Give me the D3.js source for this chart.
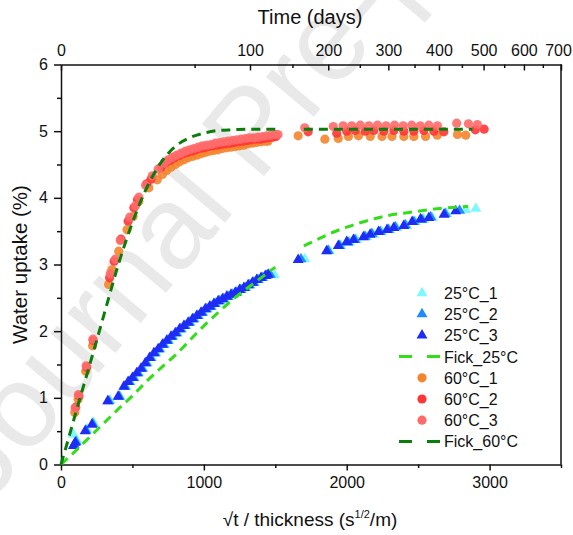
<!DOCTYPE html>
<html lang="en">
<head>
<meta charset="utf-8">
<title>Water uptake</title>
<script src="https://d3js.org/d3.v7.min.js"></script>
<style>
  body { margin: 0; background: #fff; }
  svg text { font-family: "Liberation Sans", Arial, sans-serif; fill: #111; }
  .axis path, .axis line { stroke: #111; stroke-width: 1.5px; }
  .axis text { font-size: 16px; }
</style>
</head>
<body>
<div id="chart"></div>
<script>
// values (x = sqrt(t)/thickness, y = water uptake %)
var x25_1 = [87,112,180,228,345,415,455,485,515,545,575,605,635,665,695,725,755,785,815,845,875,905,935,965,995,1025,1055,1085,1115,1145,1175,1205,1235,1265,1295,1325,1355,1385,1415,1445,1495,
             1707,1880,1960,2020,2070,2140,2190,2245,2300,2350,2420,2480,2540,2600,2700,2833,2904]
var y25_1 = [0.45,0.36,0.53,0.63,0.96,1.02,1.17,1.24,1.30,1.37,1.44,1.52,1.60,1.67,1.73,1.80,1.86,1.92,1.97,2.03,2.08,2.13,2.18,2.23,2.28,2.33,2.37,2.41,2.45,2.48,2.52,2.55,2.58,2.62,2.65,2.69,2.73,2.77,2.80,2.83,2.84,
             3.08,3.20,3.28,3.34,3.37,3.41,3.45,3.49,3.52,3.55,3.58,3.64,3.68,3.70,3.76,3.82,3.84]
var x25_2 = [92,106,175,222,335,408,448,478,508,538,568,598,628,658,688,718,748,778,808,838,868,898,928,958,988,1018,1048,1078,1108,1138,1168,1198,1228,1258,1288,1318,1348,1378,1408,1438,1465,
             1680,1870,1950,2010,2058,2128,2176,2234,2292,2340,2410,2470,2528,2588,2690,2790]
var y25_2 = [0.30,0.34,0.51,0.61,0.95,1.02,1.17,1.24,1.30,1.37,1.44,1.52,1.60,1.67,1.73,1.80,1.86,1.92,1.97,2.03,2.08,2.13,2.18,2.23,2.28,2.33,2.37,2.41,2.45,2.48,2.52,2.55,2.58,2.62,2.65,2.69,2.73,2.77,2.80,2.83,2.85,
             3.08,3.21,3.28,3.33,3.37,3.42,3.46,3.49,3.52,3.56,3.59,3.64,3.67,3.71,3.76,3.81]
var x25_3 = [87,100,169,216,327,400,440,470,500,530,560,590,620,650,680,710,740,770,800,830,860,890,920,950,980,1010,1040,1070,1100,1130,1160,1190,1220,1250,1280,1310,1340,1370,1400,1430,1450,
             1660,1859,1941,2000,2047,2117,2164,2223,2282,2329,2399,2458,2517,2575,2681,2763]
var y25_3 = [0.28,0.33,0.50,0.60,0.95,1.02,1.17,1.24,1.30,1.37,1.44,1.52,1.60,1.67,1.73,1.80,1.86,1.92,1.97,2.03,2.08,2.13,2.18,2.23,2.28,2.33,2.37,2.41,2.45,2.48,2.52,2.55,2.58,2.62,2.65,2.69,2.73,2.77,2.80,2.83,2.85,
             3.07,3.20,3.28,3.34,3.37,3.41,3.45,3.49,3.52,3.55,3.58,3.64,3.68,3.70,3.75,3.80]

var x60_1 = [96,120,173,221,333,357,404,462,505,545,615,674,710,740,770,800,830,860,890,920,950,980,1010,1040,1070,1100,1130,1160,1190,1220,1250,1280,1310,1340,1370,1400,1430,1449,
             1660,1847,1941,2012,2082,2165,2247,2317,2400,2470,2552,2634,2775,2833]
var y60_1 = [0.78,0.98,1.40,1.78,2.70,2.92,3.20,3.52,3.72,3.95,4.15,4.27,4.35,4.41,4.46,4.50,4.54,4.57,4.60,4.62,4.64,4.66,4.68,4.70,4.71,4.72,4.74,4.75,4.76,4.77,4.78,4.79,4.81,4.82,4.83,4.84,4.85,4.85,
             4.93,4.88,4.89,4.92,4.93,4.92,4.92,4.92,4.92,4.92,4.92,4.94,4.95,4.94]
var x60_2 = [103,126,180,226,340,372,420,470,510,535,600,630,700,735,765,795,825,855,885,915,945,975,1005,1035,1065,1095,1125,1155,1185,1215,1245,1275,1305,1335,1365,1395,1425,1455,1485,1505,
             1730,1930,2000,2060,2130,2190,2260,2330,2400,2470,2540,2610,2680,2900,2962]
var y60_2 = [0.86,1.03,1.46,1.86,2.80,3.05,3.38,3.65,3.85,3.97,4.21,4.28,4.46,4.53,4.56,4.60,4.63,4.66,4.68,4.70,4.72,4.74,4.75,4.77,4.78,4.79,4.80,4.81,4.82,4.83,4.84,4.85,4.86,4.87,4.88,4.88,4.89,4.90,4.91,4.92,
             4.99,4.97,5.00,5.01,5.00,5.01,5.00,5.01,5.00,5.00,5.01,5.00,4.99,5.02,5.03]
var x60_3 = [99,122,176,223,345,380,415,481,521,545,592,639,680,721,750,780,810,840,870,900,930,960,990,1020,1050,1080,1110,1140,1170,1200,1230,1260,1290,1320,1350,1380,1410,1440,1470,1500,1519,
             1706,1906,1975,2035,2095,2155,2215,2275,2335,2395,2455,2515,2575,2635,2770,2852,2915]
var y60_3 = [0.85,1.05,1.48,1.88,2.86,3.08,3.36,3.71,3.88,4.01,4.19,4.33,4.43,4.52,4.57,4.61,4.64,4.67,4.70,4.72,4.74,4.76,4.78,4.79,4.80,4.82,4.83,4.84,4.85,4.86,4.87,4.88,4.89,4.90,4.90,4.91,4.92,4.93,4.94,4.95,4.95,
             5.05,5.07,5.08,5.08,5.09,5.08,5.09,5.08,5.09,5.08,5.09,5.08,5.09,5.08,5.12,5.11,5.10]

// Fick fits (null = break in the curve)
var fick25X = [0,100,200,300,400,500,600,700,800,900,1000,1100,1200,1300,1400,1500,1600,1700,1800,1900,2000,2100,2200,2300,2400,2500,2600,2700,2850]
var fick25Y = [0,0.2,0.41,0.62,0.83,1.03,1.25,1.45,1.64,1.86,2.08,2.28,2.47,2.64,2.80,2.96,null,3.28,3.38,3.48,3.56,3.63,3.69,3.74,3.77,3.80,3.83,3.85,3.87]
var fick60X = [0,50,100,200,300,400,500,600,700,800,900,1000,1100,1200,1300,1520,1610,1700,2880]
var fick60Y = [0,0.37,0.75,1.49,2.24,2.99,3.63,4.15,4.53,4.77,4.90,4.97,5.01,5.02,5.03,5.03,null,5.03,5.03]

var xTicks = [0,1000,2000,3000]
var xMinor = [500,1500,2500,3500]
var yTicks = [0,1,2,3,4,5,6]
var yMinor = [0.5,1.5,2.5,3.5,4.5,5.5]
var dayTicks = [0,100,200,300,400,500,600,700]
var dayMinor = [50,150,250,350,450,550,650]

var legendLabels = ["25°C_1","25°C_2","25°C_3","Fick_25°C","60°C_1","60°C_2","60°C_3","Fick_60°C"]

function zip(xs, ys){
    return xs.map(function(x,i){ return {x:x, y:ys[i]} })
}

var series = [
    {name:legendLabels[0], kind:"tri", color:"#7ff7ff", data:zip(x25_1,y25_1)},
    {name:legendLabels[1], kind:"tri", color:"#1e8cff", data:zip(x25_2,y25_2)},
    {name:legendLabels[2], kind:"tri", color:"#1f2cf5", data:zip(x25_3,y25_3)},
    {name:legendLabels[4], kind:"dot", color:"#f4852c", data:zip(x60_1,y60_1)},
    {name:legendLabels[5], kind:"dot", color:"#ff3535", data:zip(x60_2,y60_2)},
    {name:legendLabels[6], kind:"dot", color:"#ff6a6a", data:zip(x60_3,y60_3)}
]
var fits = [
    {name:legendLabels[3], color:"#33dd1a", data:zip(fick25X,fick25Y)},
    {name:legendLabels[7], color:"#0b7d0b", data:zip(fick60X,fick60Y)}
]

var w = 573, h = 535
var padL = 61, padT = 64.5, pw = 500, ph = 400

var xScale = d3.scaleLinear().domain([0,3500]).range([padL, padL+pw])
var yScale = d3.scaleLinear().domain([0,6]).range([padT+ph, padT])
var tScale = d3.scaleSqrt().domain([0,700]).range([padL, padL+pw])

var svg = d3.select("#chart").append("svg")
            .attr("width", w)
            .attr("height", h)

// watermark of the source page
svg.append("text")
    .text("Journal Pre-proof")
    .attr("transform", "translate(-12,505) rotate(-50)")
    .attr("font-size", 118)
    .style("fill", "#e9e9e9")

// bottom axis
svg.append("g").attr("class","axis")
    .attr("transform","translate(0,"+(padT+ph)+")")
    .call(d3.axisBottom(xScale).tickValues(xTicks).tickFormat(d3.format("d"))
            .tickSizeInner(6).tickSizeOuter(0).tickPadding(6))
svg.append("g").attr("class","axis")
    .attr("transform","translate(0,"+(padT+ph)+")")
    .call(d3.axisBottom(xScale).tickValues(xMinor).tickFormat("").tickSizeInner(3.5).tickSizeOuter(0))
    .select(".domain").remove()

// left axis
svg.append("g").attr("class","axis")
    .attr("transform","translate("+padL+",0)")
    .call(d3.axisLeft(yScale).tickValues(yTicks).tickFormat(d3.format("d"))
            .tickSizeInner(7).tickSizeOuter(0).tickPadding(6))
svg.append("g").attr("class","axis")
    .attr("transform","translate("+padL+",0)")
    .call(d3.axisLeft(yScale).tickValues(yMinor).tickFormat("").tickSizeInner(4).tickSizeOuter(0))
    .select(".domain").remove()

// top axis: time in days, ticks pointing in
var topAxis = svg.append("g").attr("class","axis")
    .attr("transform","translate(0,"+padT+")")
    .call(d3.axisTop(tScale).tickValues(dayTicks).tickFormat(d3.format("d"))
            .tickSizeInner(-6).tickSizeOuter(0).tickPadding(9))
// last label nudged so it stays on the page
topAxis.selectAll(".tick text")
    .filter(function(d){ return d == 700 })
    .attr("dx", -3)
svg.append("g").attr("class","axis")
    .attr("transform","translate(0,"+padT+")")
    .call(d3.axisTop(tScale).tickValues(dayMinor).tickFormat("").tickSizeInner(-3.5).tickSizeOuter(0))
    .select(".domain").remove()

// right edge
svg.append("line")
    .attr("x1", padL+pw).attr("x2", padL+pw)
    .attr("y1", padT).attr("y2", padT+ph)
    .attr("stroke","#111").attr("stroke-width",1.5)

// axis titles
svg.append("text")
    .text("Time (days)")
    .attr("x", 310).attr("y", 24)
    .attr("text-anchor","middle")
    .attr("font-size", 20)

var xt = svg.append("text")
    .attr("x", 310).attr("y", 526)
    .attr("text-anchor","middle")
    .attr("font-size", 19)
xt.append("tspan").text("√t / thickness (s")
xt.append("tspan").text("1/2").attr("font-size", 11).attr("dy", -8)
xt.append("tspan").text("/m)").attr("dy", 8)

svg.append("text")
    .text("Water uptake (%)")
    .attr("transform","translate(27,"+(padT+ph/2)+") rotate(-90)")
    .attr("text-anchor","middle")
    .attr("font-size", 20.5)

// markers
var tri = d3.symbol().type(d3.symbolTriangle).size(52)

series.forEach(function(s){
    var g = svg.append("g")
    if (s.kind == "tri") {
        g.selectAll("path")
            .data(s.data)
            .enter()
            .append("path")
            .attr("d", tri)
            .attr("transform", function(d){
                return "translate("+xScale(d.x)+","+yScale(d.y)+")"
            })
            .attr("fill", s.color)
    } else {
        g.selectAll("circle")
            .data(s.data)
            .enter()
            .append("circle")
            .attr("cx", function(d){ return xScale(d.x) })
            .attr("cy", function(d){ return yScale(d.y) })
            .attr("r", 4.6)
            .attr("fill", s.color)
            .attr("fill-opacity", 0.9)
    }
})

// Fick fits on top
var line = d3.line()
    .defined(function(d){ return d.y != null })
    .x(function(d){ return xScale(d.x) })
    .y(function(d){ return yScale(d.y) })
    .curve(d3.curveMonotoneX)

fits.forEach(function(f){
    svg.append("path")
        .datum(f.data)
        .attr("d", line)
        .attr("fill","none")
        .attr("stroke", f.color)
        .attr("stroke-width", 3)
        .attr("stroke-dasharray","9,6")
})

// legend
var legendItems = [series[0], series[1], series[2], fits[0], series[3], series[4], series[5], fits[1]]
var lg = svg.append("g")
legendItems.forEach(function(it, i){
    var yy = 293 + i*21.2
    if (it.kind == "tri") {
        lg.append("path").attr("d", tri)
            .attr("transform","translate(422,"+yy+")")
            .attr("fill", it.color)
    } else if (it.kind == "dot") {
        lg.append("circle").attr("cx",422).attr("cy",yy).attr("r",4.6)
            .attr("fill", it.color)
    } else {
        lg.append("line")
            .attr("x1",399).attr("x2",441).attr("y1",yy).attr("y2",yy)
            .attr("stroke", it.color).attr("stroke-width",3)
            .attr("stroke-dasharray","13,15")
    }
    lg.append("text")
        .text(it.name)
        .attr("x", 444).attr("y", yy+6)
        .attr("font-size", 16)
})
</script>
</body>
</html>
